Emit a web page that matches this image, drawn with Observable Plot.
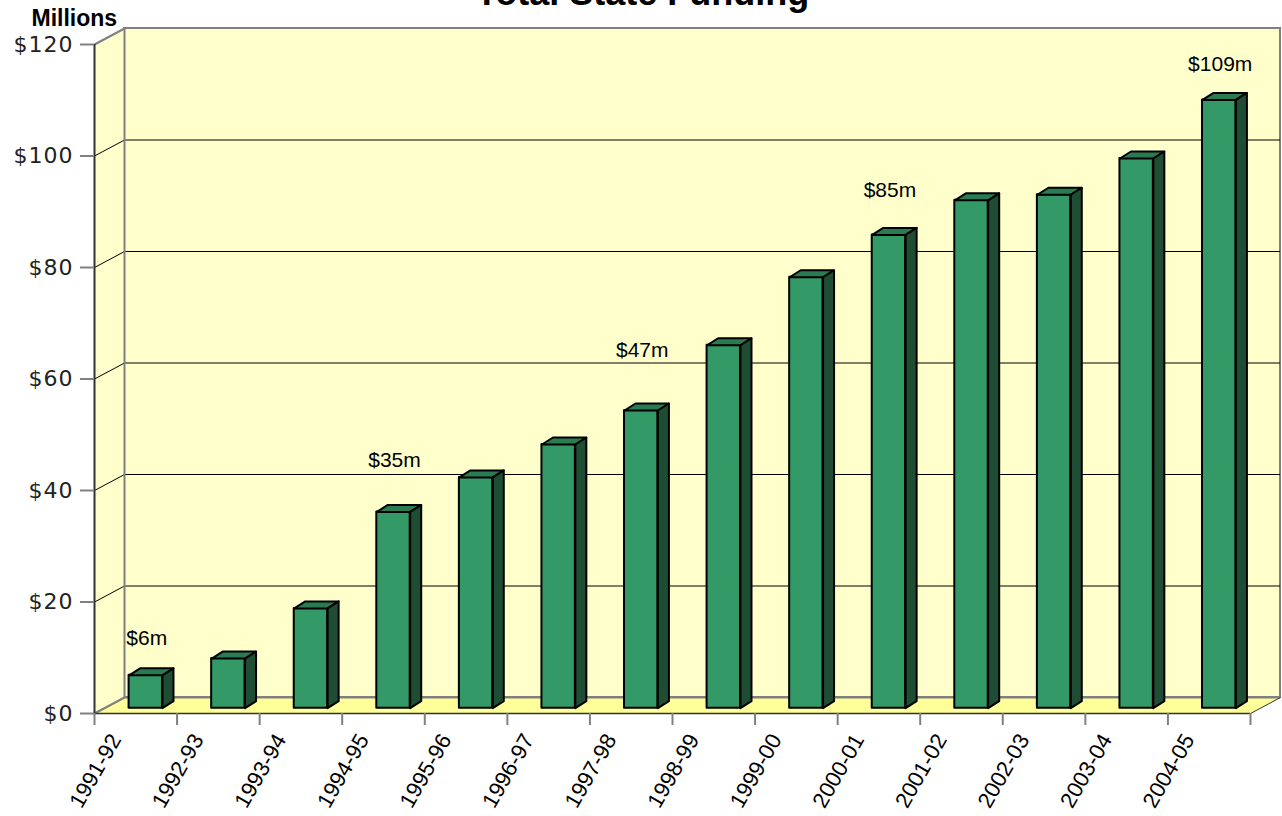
<!DOCTYPE html>
<html>
<head>
<meta charset="utf-8">
<script src="https://cdn.jsdelivr.net/npm/d3@7"></script>
<script src="https://cdn.jsdelivr.net/npm/@observablehq/plot@0.6"></script>
<style>
  html, body { margin: 0; padding: 0; background: #fff; }
  #chart svg g[aria-label="y-axis tick label"] text { letter-spacing: 1px; }
</style>
</head>
<body>
<div id="chart"></div>
<script>
// ---- data ----
const categories = ["1991-92","1992-93","1993-94","1994-95","1995-96","1996-97","1997-98",
                    "1998-99","1999-00","2000-01","2001-02","2002-03","2003-04","2004-05"];
const funding = [5.9, 8.9, 17.9, 35.2, 41.4, 47.3, 53.4, 65.1, 77.3, 84.9, 91.1, 92.1, 98.6, 109.1];
const yTicks = [0, 20, 40, 60, 80, 100, 120];
const labelCategories = ["1991-92", "1994-95", "1997-98", "2000-01", "2004-05"];
const labelTexts = ["$6m", "$35m", "$47m", "$85m", "$109m"];
const labelHeights = [12.2, 44.3, 63.9, 92.6, 115.3];
const titleText = "Total State Funding";
const unitText = "Millions";

// ---- layout ----
const W = 1282, H = 816, mL = 94, mR = 32, mT = 44, mB = 103;
const n = categories.length;
const yMax = 120;
const pxX = (W - mL - mR) / n;       // px per category unit
const pxY = (H - mT - mB) / yMax;    // px per million
// oblique 3D depth offsets, in data units
const wallDX = 30 / pxX, wallDY = 16 / pxY;
const barShiftX = 10 / pxX, barShiftY = 5.3 / pxY;
const barHalf = 16.7 / pxX;
const depthX = 11 / pxX, depthY = 7 / pxY;

const bars = categories.map((c, i) => {
  const cx = i + 0.5 + barShiftX;
  return {c, x1: cx - barHalf, x2: cx + barHalf, y0: barShiftY, y1: funding[i] + barShiftY};
});
const topFaces = bars.flatMap(b => [
  [b.x1, b.y1], [b.x2, b.y1], [b.x2 + depthX, b.y1 + depthY], [b.x1 + depthX, b.y1 + depthY], [b.x1, b.y1]
].map(([x, y]) => ({c: b.c, x, y})));
const sideFaces = bars.flatMap(b => [
  [b.x2, b.y0], [b.x2, b.y1], [b.x2 + depthX, b.y1 + depthY], [b.x2 + depthX, b.y0 + depthY], [b.x2, b.y0]
].map(([x, y]) => ({c: b.c, x, y})));

const sideWall = [[0, 0], [0, yMax], [wallDX, yMax + wallDY], [wallDX, wallDY]].map(([x, y]) => ({x, y}));
const floor = [[0, 0], [n, 0], [n + wallDX, wallDY], [wallDX, wallDY]].map(([x, y]) => ({x, y}));
const gridTicks = yTicks.filter(t => t > 0 && t < yMax);

const plot = Plot.plot({
  width: W, height: H,
  marginLeft: mL, marginRight: mR, marginTop: mT, marginBottom: mB,
  style: {fontFamily: "Liberation Sans, Arial, sans-serif", color: "#000", background: "#fff"},
  x: {type: "linear", domain: [0, n], axis: null},
  y: {type: "linear", domain: [0, yMax], axis: null},
  marks: [
    // back wall
    Plot.rect([0], {x1: wallDX, x2: n + wallDX, y1: wallDY, y2: yMax + wallDY, fill: "#ffffcc", stroke: "#808080", strokeWidth: 2}),
    // left side wall
    Plot.line(sideWall, {x: "x", y: "y", fill: "#ffffcc", stroke: "none"}),
    // floor
    Plot.line(floor, {x: "x", y: "y", fill: "#ffff99", stroke: "none"}),
    // gridlines on back wall
    Plot.ruleY(gridTicks, {y: d => d + wallDY, x1: wallDX, x2: n + wallDX, stroke: "#000", strokeWidth: 1}),
    // gridlines on side wall
    Plot.link(gridTicks, {x1: 0, y1: d => d, x2: wallDX, y2: d => d + wallDY, stroke: "#000", strokeWidth: 1}),
    // side wall top and floor left edges
    Plot.link([0, yMax], {x1: 0, y1: d => d, x2: wallDX, y2: d => d + wallDY, stroke: "#808080", strokeWidth: 2}),
    // back wall left edge and bottom edge
    Plot.ruleX([wallDX], {y1: wallDY, y2: yMax + wallDY, stroke: "#808080", strokeWidth: 2}),
    Plot.ruleY([wallDY], {x1: wallDX, x2: n + wallDX, stroke: "#808080", strokeWidth: 2}),
    // floor right edge
    Plot.link([0], {x1: n, y1: 0, x2: n + wallDX, y2: wallDY, stroke: "#333", strokeWidth: 1}),
    // floor front edge
    Plot.ruleY([0], {x1: 0, x2: n, stroke: "#333", strokeWidth: 1.5}),
    // front value axis line
    Plot.ruleX([0], {y1: 0, y2: yMax, stroke: "#333", strokeWidth: 2}),
    // y axis
    Plot.axisY({ticks: yTicks, tickSize: 14, tickPadding: 7, tickFormat: d => "$" + d,
      fontSize: 22, fontFamily: "DejaVu Sans, Verdana, sans-serif", stroke: "#808080", strokeWidth: 2,
      fill: "#222", label: null}),
    // x axis tick marks
    Plot.axisX({ticks: d3.range(n + 1), tickSize: 12, tickFormat: () => "", stroke: "#808080", strokeWidth: 2, label: null}),
    // bars: front, top, side faces
    Plot.rect(bars, {x1: "x1", x2: "x2", y1: "y0", y2: "y1", fill: "#339966", stroke: "#000", strokeWidth: 2, strokeLinejoin: "round"}),
    Plot.line(topFaces, {x: "x", y: "y", z: "c", fill: "#2a7b51", stroke: "#000", strokeWidth: 2, strokeLinejoin: "round"}),
    Plot.line(sideFaces, {x: "x", y: "y", z: "c", fill: "#1e4d34", stroke: "#000", strokeWidth: 2, strokeLinejoin: "round"}),
    // category labels
    Plot.text(categories, {x: (d, i) => i + 0.5, frameAnchor: "bottom", text: d => d, rotate: -60,
      textAnchor: "end", dx: -14, dy: 26, fontSize: 22, fill: "#000"}),
    // value annotations
    Plot.text(labelTexts, {x: (d, i) => categories.indexOf(labelCategories[i]) + 0.5, y: (d, i) => labelHeights[i],
      text: d => d, dx: 11, lineAnchor: "bottom", fontSize: 21, fill: "#000"}),
    // unit label
    Plot.text([unitText], {frameAnchor: "top-left", text: d => d, textAnchor: "start", lineAnchor: "bottom",
      dx: -63, dy: -19, fontSize: 23, fontWeight: "bold", fill: "#000"}),
    // title (cut off at the top, as in the reference)
    Plot.text([titleText], {frameAnchor: "top", text: d => d, lineAnchor: "bottom",
      dx: -30, dy: -40, fontSize: 36, fontWeight: "bold", fill: "#000"})
  ]
});
document.getElementById("chart").appendChild(plot);
</script>
</body>
</html>
